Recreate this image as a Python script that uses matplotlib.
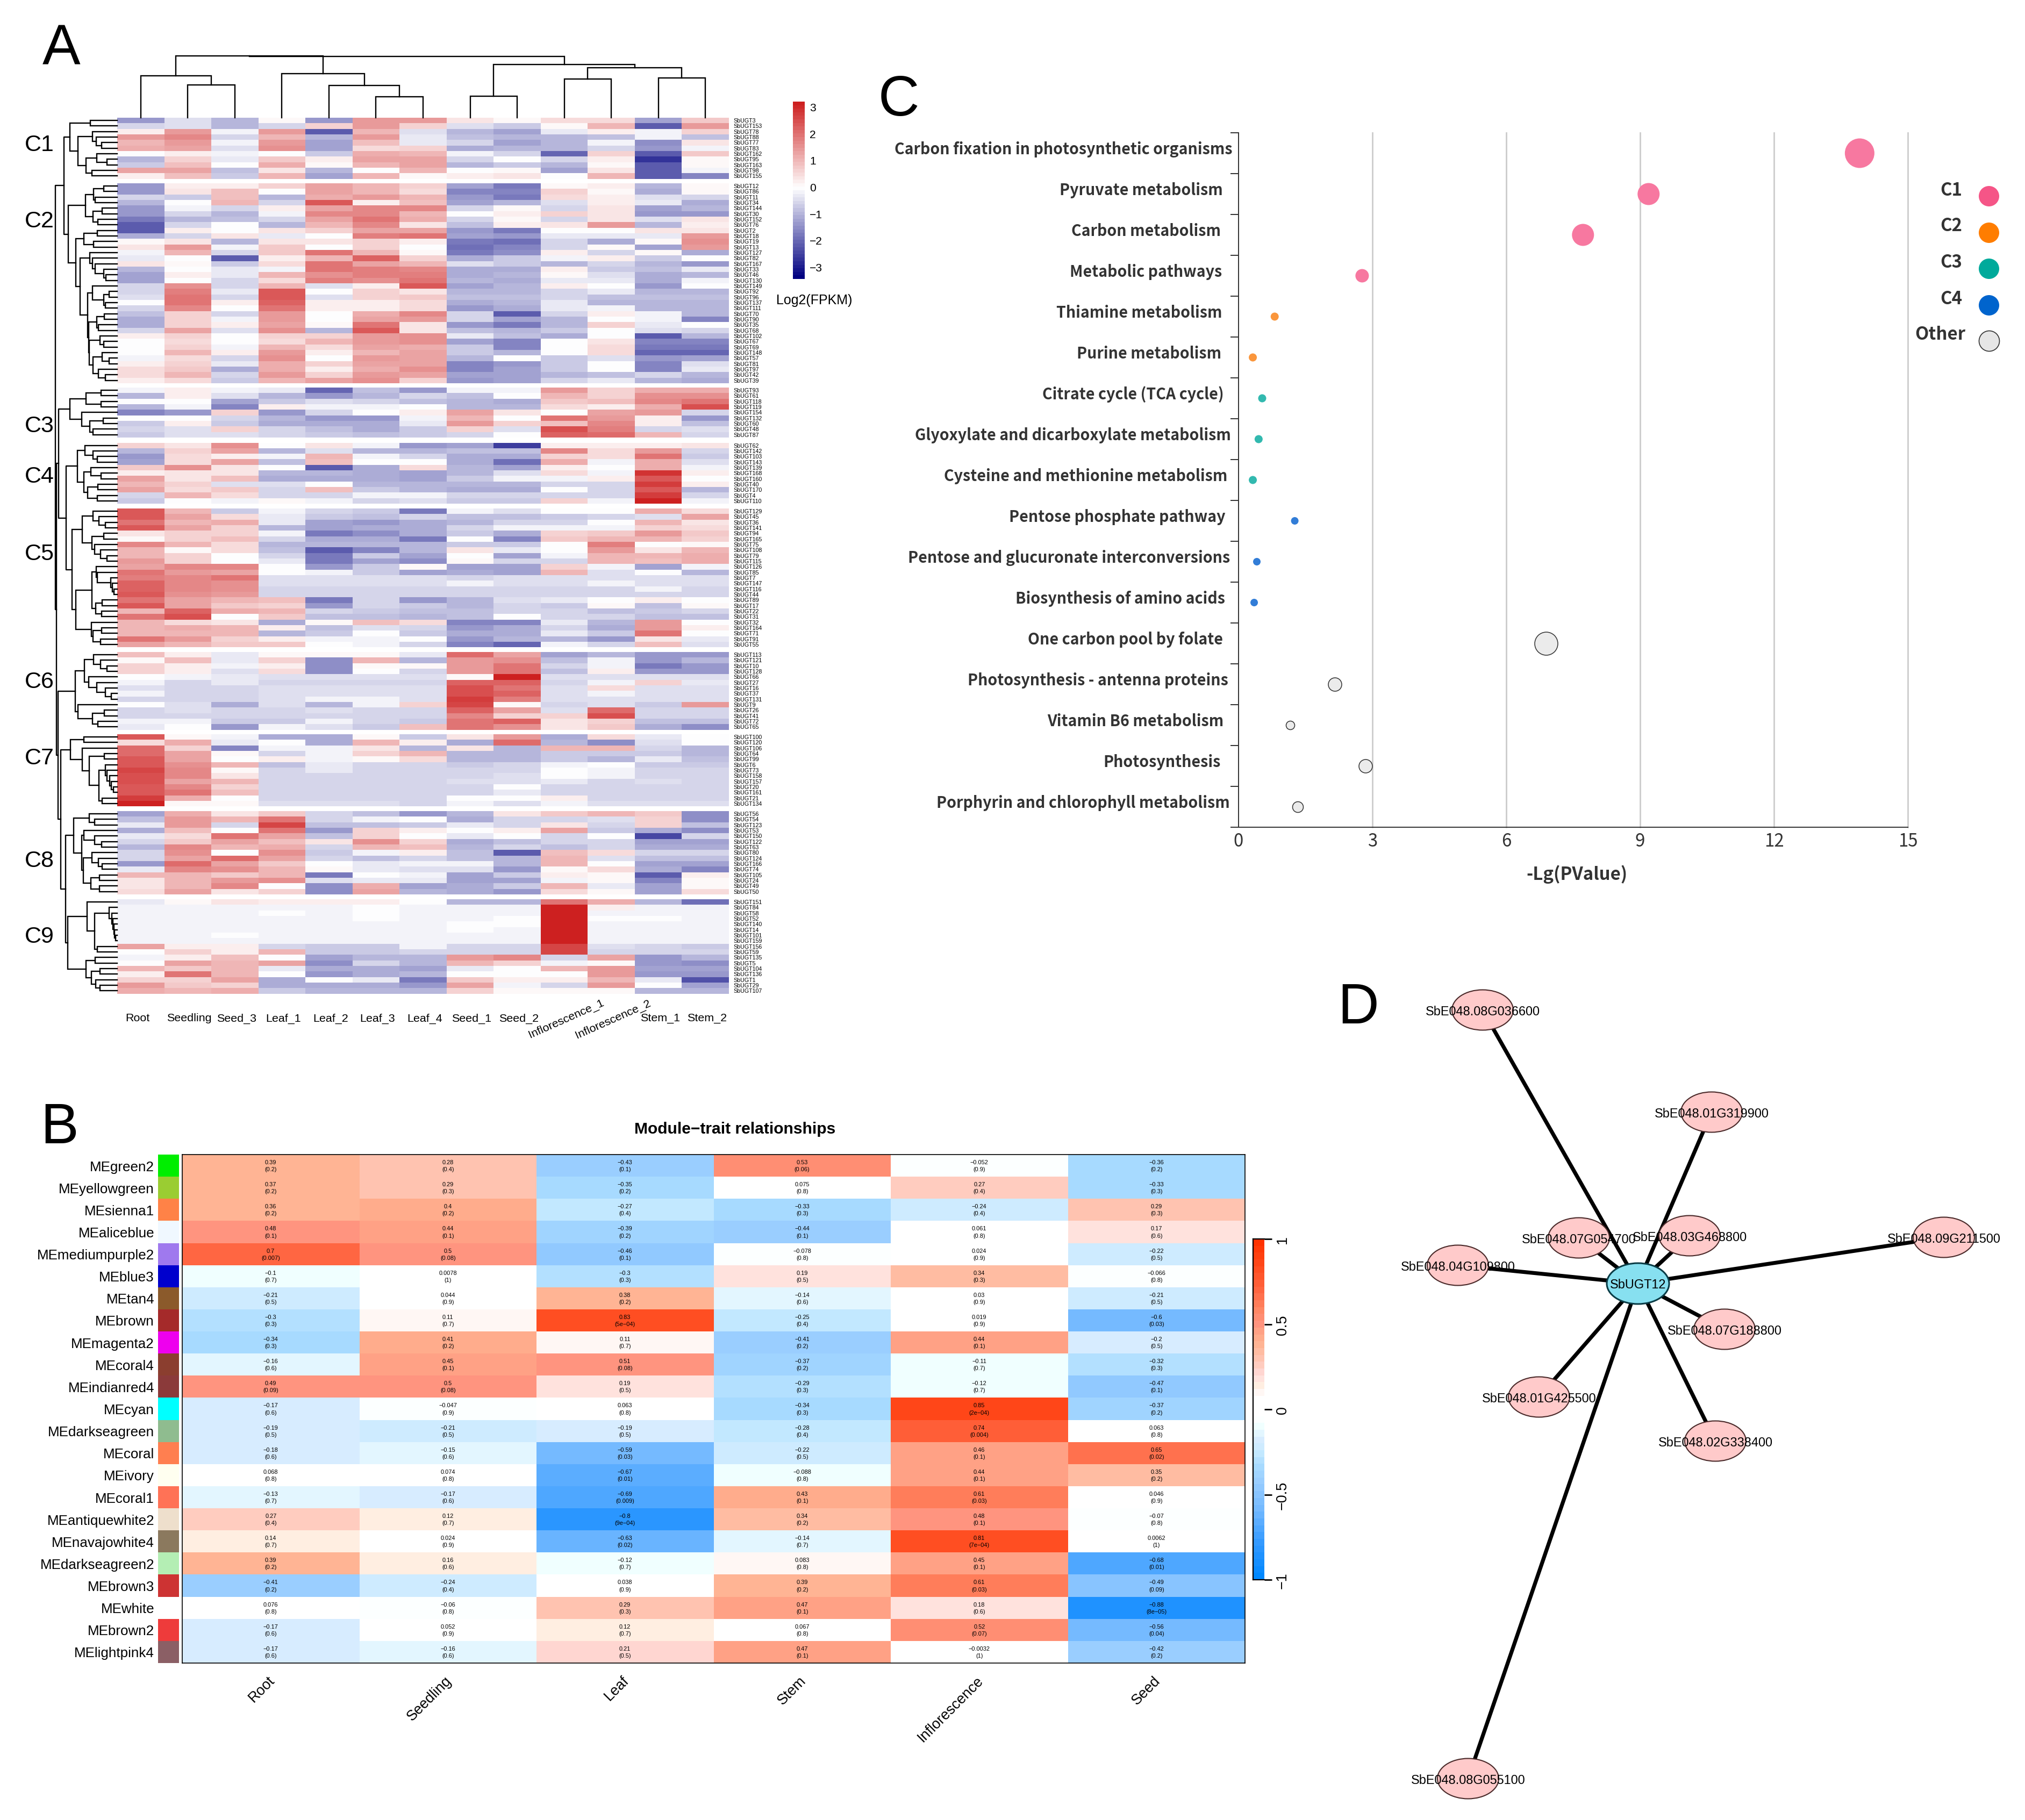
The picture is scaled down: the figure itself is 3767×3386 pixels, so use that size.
import numpy as np
import matplotlib
matplotlib.use('Agg')
import matplotlib.pyplot as plt
from matplotlib.colors import LinearSegmentedColormap, Normalize
from matplotlib.patches import Ellipse
from matplotlib.transforms import Bbox, TransformedBbox

W, H = 3767, 3387
plt.rcParams['font.family'] = ['Liberation Sans', 'DejaVu Sans']

# ---------- panel A: expression heatmap ----------
SAMPLES = ['Root', 'Seedling', 'Seed_3', 'Leaf_1', 'Leaf_2', 'Leaf_3', 'Leaf_4', 'Seed_1', 'Seed_2',
           'Inflorescence_1', 'Inflorescence_2', 'Stem_1', 'Stem_2']

C1_GENES = [3, 153, 78, 88, 77, 83, 162, 95, 163, 98, 155]
C1_VALUES = [
    [-1.4, -.4, -1.0, .05, -1.4, 1.5, 1.4, .4, .05, .5, .5, -1.2, .8],
    [-.6, -.45, -.9, -.6, .7, 1.5, .6, -.4, -.7, .05, 1.0, -2.1, 1.4],
    [.3, 1.4, -.2, 1.5, -2.1, 1.0, -.45, -1.0, -1.2, -.3, .2, -.1, .7],
    [1.5, 1.7, -.5, 1.0, -.9, 1.5, -.35, -.85, -1.0, -1.0, -.8, -.2, -.8],
    [1.0, 1.5, -.1, 1.4, -1.2, .9, -.35, -.5, -1.2, -.9, -.2, -1.5, .4],
    [1.2, 1.3, -.4, 1.6, -1.2, .5, .7, -1.1, -.9, -.9, -.5, -1.3, -.2],
    [0, .3, -.1, 0, -.7, 1.2, 1.0, -.2, -.6, -2.0, .6, -2.1, .8],
    [-.9, .7, -.3, .8, .3, 1.3, 1.3, -.6, -.05, -.6, .2, -2.7, .05],
    [-.65, .9, -.05, 1.2, .15, 1.1, 1.3, -.9, -.7, -.9, .05, -2.2, .05],
    [1.3, 1.3, -.8, .4, -.9, 0, 1.0, -.05, .05, -1.2, .4, -2.2, -.2],
    [.3, .9, -.65, 1.0, -1.2, 1.0, .1, .2, .4, -.05, 1.0, -2.1, -1.6],
]
C2_GENES = [12, 86, 11, 34, 144, 30, 152, 76, 2, 18, 19, 13, 127, 82, 167, 33, 46, 130, 149, 92, 96, 137,
            111, 70, 90, 35, 68, 102, 67, 69, 148, 57, 81, 97, 42, 39]
C2_VALUES = [
    [-1.4, .3, .3, .6, 1.3, 1.1, .7, -1.2, -1.7, .1, .2, -.9, .05],
    [-1.3, .4, .9, .02, 1.3, 1.1, .5, -1.6, -1.6, .6, .05, -1.1, .05],
    [-.5, -.7, .9, -.9, 1.2, 1.5, 1.0, -1.4, -1.7, .5, .3, -.4, -.6],
    [-1.0, -.05, 1.1, -.5, 2.4, .3, .9, -1.2, -1.0, -.4, .2, -.3, -1.1],
    [-1.4, -.2, -.5, .2, 1.3, 1.7, 1.7, -.5, .05, -.5, .4, -1.2, -.95],
    [-1.3, -.5, -.9, -.2, 1.7, 1.7, 1.0, -.05, .2, .7, .4, -1.3, -1.3],
    [-1.7, -1.0, -.8, -.6, 1.3, 1.9, 1.2, -.5, .05, -.5, .4, -.4, .4],
    [-2.1, -.6, .03, -1.0, 1.1, 1.7, .4, -.8, .2, .4, 1.5, -.9, .2],
    [-2.1, .3, .03, .4, .6, 1.3, 1.3, -1.4, -1.7, -.03, -.03, .4, .4],
    [-1.1, -.5, .4, -.3, -.03, 1.8, 1.9, -1.2, -1.3, -.3, -.3, -.3, 1.5],
    [.1, .4, -.9, .4, .4, .6, .3, -1.8, -1.9, -.6, -1.1, .1, 1.6],
    [.4, 1.4, -.2, .8, -.03, .6, .02, -1.9, -1.6, -.5, .1, -1.2, 1.4],
    [-.2, 1.0, -.6, .8, 1.9, 1.0, .05, -1.7, -1.5, .2, -.6, .1, -1.1],
    [-.3, -.02, -2.1, .3, 1.0, 2.2, .7, -1.1, -.7, -.2, .3, -.7, -.05],
    [.4, .1, -.7, .5, 2.0, 1.3, 1.1, -.4, -.7, -1.0, -.5, -1.0, -1.3],
    [-.9, -.02, -.35, -.2, 2.0, 1.8, 1.7, -1.1, -1.1, .3, -.7, -.8, -.3],
    [-1.2, .3, -.35, 1.0, 1.6, 1.8, 1.8, -1.1, -.9, .1, -.4, -1.1, -.9],
    [-1.2, -.02, -.5, .5, 1.8, 1.6, 2.0, -1.0, -1.1, -.3, -.3, -1.1, -.2],
    [-.6, 1.6, -.6, 1.0, -.4, .3, 2.4, -1.2, -1.0, .3, .02, -1.4, -.05],
    [-.5, 1.8, -.3, 2.4, -.02, .6, .4, -.9, -.9, -.6, -.3, -.9, -.9],
    [-.4, 1.9, -.5, 2.3, -.4, .6, .8, -.8, -.8, -.6, -.8, -.8, -.8],
    [.02, 1.9, .3, 2.2, .2, .3, .5, -1.1, -1.0, -.3, -.9, -1.0, -1.0],
    [-.5, 1.7, -.03, 2.0, .2, .3, .5, -1.3, -1.1, -.3, -.2, -1.0, -1.0],
    [-.8, .6, -.6, 1.4, -.02, 1.2, 1.7, -.5, -2.2, -.5, .3, -.2, -1.0],
    [-1.1, .6, -.1, 1.5, 0, 1.3, 1.5, -.5, -1.2, -1.0, -.05, -.2, -1.6],
    [-1.1, .7, .2, 1.3, .1, 1.9, .4, -1.3, -1.8, -1.0, .7, -.3, -.05],
    [-.6, 1.3, -.4, 1.6, -.9, 2.4, .4, -.8, -1.0, -.7, -.03, -.4, -.6],
    [.3, .6, -.02, .6, .6, 1.4, 1.6, -.3, -.8, -1.1, -.03, -2.1, -1.0],
    [-.05, .5, -.02, .5, 1.0, 1.5, 1.6, -1.2, -1.6, .02, .4, -1.6, -1.6],
    [-.05, .7, -.2, 1.1, .5, 1.3, 1.2, -.7, -1.6, .02, .5, -1.7, -1.7],
    [-.05, 1.0, .2, 1.4, .2, 1.0, 1.3, -.7, -1.0, .02, .5, -2.0, -2.0],
    [-.2, .5, -.6, 1.6, .02, 1.5, 1.3, -.9, -.03, -.7, -.4, -1.3, -1.2],
    [.2, .6, -.3, 1.2, .6, 1.3, 1.3, -1.6, -1.3, -.7, -.03, -1.6, -.4],
    [.5, .8, -1.1, 1.2, .3, 1.2, 1.6, -1.6, -1.2, -.7, -.03, -1.6, -.3],
    [.5, 1.0, -.6, 1.4, .7, 1.4, 1.3, -1.2, -1.2, -1.0, -.8, -.5, -.9],
    [.3, .5, -.7, 1.1, 1.3, 1.6, .6, -1.4, -1.2, -.5, -.3, -.9, -1.1],
]
C3_GENES = [93, 61, 118, 119, 154, 132, 60, 48, 87]
C3_VALUES = [
    [-.1, .2, -.2, -.3, -2.0, -.8, -1.4, -.2, -.2, 1.5, .7, 1.2, 1.2],
    [-.9, .3, -.4, -.9, -1.4, -.9, -.6, -.8, .03, 1.1, .7, 1.6, 1.6],
    [-.05, .03, -1.2, -.7, -.4, -.5, -.8, -1.0, -1.1, .8, .9, 1.7, 2.0],
    [-.9, -.2, -1.6, .3, -.2, -.2, .02, -1.0, -1.0, .5, .2, 1.2, 2.5],
    [-1.6, -1.3, .6, -1.3, -.6, .02, .2, 1.3, .4, .02, 1.3, 1.5, -.5],
    [.02, .03, -.5, -.9, -1.3, -1.3, -.2, 1.1, .02, 2.0, 1.5, .3, -1.3],
    [-.7, .2, -.7, -1.1, -1.1, -1.1, -.3, 1.5, .7, .9, 1.7, .2, -.8],
    [-.5, -.4, .6, -.6, -.8, -1.1, -.7, .6, -.4, 2.5, 1.8, -.6, -.4],
    [-.7, -.4, -.4, -.6, -.7, -.8, -.7, -.6, .02, 2.2, 2.1, 1.0, -.6],
]
C4_GENES = [62, 142, 103, 143, 139, 168, 160, 40, 170, 4, 110]
C4_VALUES = [
    [.7, .4, 1.6, .02, .4, -.2, -1.4, -1.2, -2.6, .2, .3, .3, .4],
    [-1.0, .6, 1.3, -.9, -.4, -.9, -.9, -.8, -.8, 1.7, .5, 1.4, -.5],
    [-1.3, .5, .3, -.2, 1.1, -.2, -.6, -1.1, -1.1, .6, .5, 2.0, -.7],
    [-1.2, .5, 1.3, -.8, .9, .02, .03, -1.1, -1.9, 1.2, -.2, 1.2, -.4],
    [.8, 1.6, .4, .02, -2.1, -1.1, .5, -1.0, -1.2, .3, .03, 1.2, -.2],
    [.3, .4, .4, -.9, -1.0, -1.1, -1.2, -.9, -.45, .5, -.2, 2.9, .3],
    [1.3, .4, .9, -1.1, -1.1, -1.1, -1.2, -.7, -.2, -.2, .2, 2.3, -.05],
    [1.0, .7, -.4, -.4, .02, -.9, -1.0, -1.0, -.9, -.5, -.5, 2.8, .2],
    [1.3, .5, .8, -.6, .9, -.7, -1.0, -1.1, -1.1, -.05, -.5, 2.3, -1.0],
    [-.5, 1.1, .55, -.5, -.5, -.2, -.15, -.5, -.6, -.6, -.5, 2.8, -.6],
    [-.7, 0, -.2, .15, -.2, -.5, -.45, -.7, -.7, .7, -.2, 3.1, -.2],
]
C5_GENES = [129, 45, 36, 141, 94, 165, 75, 108, 79, 115, 126, 85, 7, 147, 116, 44, 89, 17, 22, 31, 32, 164,
            71, 91, 55]
C5_VALUES = [
    [2.3, 1.0, -.7, -.2, -.5, -.7, -1.7, -.2, -.45, 0, 0, 1.2, .5],
    [2.4, 1.3, .5, -.3, -.7, -.8, -.6, -.8, -.8, -.7, -.5, -.4, 1.3],
    [1.9, 1.0, 1.2, -.35, -1.2, -1.3, -1.1, -.9, -.6, -.5, -.05, 1.1, .4],
    [2.3, 1.3, .6, -1.0, -1.2, -1.1, -1.1, -.6, -.2, -.2, -.2, .7, .5],
    [.4, .7, .7, -.15, -1.7, -1.5, -1.1, -.7, -1.1, .7, .8, 1.5, .8],
    [.1, .7, .9, -.6, -1.1, -1.1, -1.7, .02, -1.6, .8, 1.0, 1.0, .7],
    [1.7, 1.0, .5, -.9, -1.0, -1.0, -1.0, -.7, -.7, .02, 1.8, -.05, .1],
    [1.1, .08, .5, -.8, -2.1, -1.6, -1.0, .4, -.3, .02, 1.5, .4, 1.0],
    [1.1, .6, -.05, -.6, -1.8, -.7, -1.2, -.03, -1.2, -.2, 1.1, 1.1, 1.2],
    [1.4, .6, .02, -.35, -1.7, -1.2, -1.5, .1, -.6, -.6, 1.1, .9, 1.2],
    [1.3, 1.7, 1.7, .02, -1.3, -.7, .1, -1.2, -1.2, .7, -.2, -1.2, -.2],
    [1.9, 1.4, 1.3, .02, -.2, -.7, -1.2, -1.1, -1.2, 1.0, -.45, .03, -.9],
    [1.8, 1.7, 2.0, -.45, -.45, -.45, -.45, -.5, -.45, -.45, -.45, -.45, -.45],
    [2.2, 1.7, 1.6, -.45, -.45, -.45, -.45, -.15, -.45, -.45, -.15, -.45, -.45],
    [2.2, 1.7, 1.6, -.5, -.5, -.5, -.5, -.55, -.5, -.55, -.5, -.2, -.5],
    [2.4, 1.6, 1.4, -.6, -.6, -.6, -.6, -.6, -.5, -.5, -.5, -.6, -.6],
    [2.0, 1.3, 1.0, .9, -1.8, -.6, -1.3, -.9, -.45, -.3, .03, .3, -.05],
    [2.3, 1.3, .8, .7, -1.3, -.6, -.7, -.9, -.6, -.7, .15, -.8, .1],
    [1.1, 2.2, 1.2, 1.0, -.6, -.7, -.8, -.8, -.6, -.5, -.8, -.7, -.5],
    [1.9, 2.5, .03, .8, -.8, -.8, -.9, -.8, .02, -.5, -.5, -.8, -.8],
    [1.1, .5, .4, -1.1, .05, .9, .5, -1.6, -1.6, -.35, -.9, 1.5, -.02],
    [1.1, 1.2, 1.1, .3, -.8, -.4, -.6, -1.4, -1.1, -.6, -1.1, 1.5, .2],
    [1.1, 1.1, 1.1, -1.0, -.7, .02, -.7, -1.1, -1.1, -.35, -.7, 2.0, -.05],
    [2.0, 1.5, .7, .3, -.2, -.15, -.03, -1.3, -1.0, -1.0, -1.3, .4, -.35],
    [1.3, 1.1, .8, .8, .03, -.2, -.6, -1.6, -2.0, -.15, -.6, .9, -.45],
]
C6_GENES = [113, 121, 10, 128, 66, 27, 16, 37, 131, 9, 26, 41, 72, 65]
C6_VALUES = [
    [.9, .3, -.35, .15, .15, .15, -.3, 2.1, 1.3, -1.2, -.9, -1.4, -1.4],
    [.05, .9, -.3, .7, -1.5, 1.0, -1.0, 1.5, 1.6, -.8, -.2, -1.3, -1.0],
    [.6, .3, -.15, .3, -1.5, .15, .1, 1.5, 1.9, -.6, -.1, -1.7, -1.4],
    [.7, .3, -.45, .5, -1.5, -.05, -.5, 1.5, 1.9, -.8, .3, -1.3, -1.3],
    [.03, -.2, -.3, -.4, -.4, -.4, -.4, .15, 3.2, -.4, -.4, -.4, -.4],
    [-.2, -.6, -.3, -.6, -.5, -.5, -.6, 2.2, 2.2, -.6, -.2, .7, -.3],
    [-.4, -.5, -.5, -.45, -.45, -.45, -.45, 2.5, 2.0, -.45, .45, -.45, -.45],
    [-.15, -.5, -.5, -.45, -.45, -.45, -.45, 2.5, 2.2, -.45, -.2, -.45, -.45],
    [-.5, -.5, -.5, -.45, -.1, -.15, -.4, 2.8, 1.8, -.45, -.45, -.45, -.45],
    [.02, -.45, -1.1, -.45, -.9, -.15, .6, 2.6, .1, -.6, -.45, -.7, 1.4],
    [-.6, -.45, -.6, -.6, -.4, -.6, -.5, 2.2, 1.3, -.4, 2.1, -.6, -.6],
    [-.6, -.6, -.6, -.6, -.6, -.6, -.6, 1.7, .7, .6, 2.5, -.6, -.6],
    [-.2, -.2, -.7, -.7, -.2, -.6, -.7, 2.0, 2.2, .4, .6, -.8, -.8],
    [-.35, -.05, -1.3, -.2, -.4, -.7, .9, 2.0, 1.6, .4, .8, -1.1, -1.5],
]
C7_GENES = [100, 120, 106, 64, 99, 6, 73, 158, 157, 20, 161, 21, 134]
C7_VALUES = [
    [2.4, .15, -.2, -1.1, -1.1, .05, -.7, .4, 1.4, -1.1, .5, -.3, -.05],
    [.5, 1.2, -.3, -.03, -1.1, 1.0, .2, -1.1, 2.1, -.9, -1.5, -.4, .02],
    [2.1, .7, -1.6, -.15, -.2, .4, -.9, .4, -.9, 1.0, 1.0, -.6, -1.0],
    [2.1, 1.3, .15, -.5, -.2, .7, 1.0, -.9, -.9, -.7, -.7, -.7, -.9],
    [2.3, 1.3, -.05, .3, -.2, .15, .5, -1.0, -.9, -.7, -.9, -.3, -.8],
    [2.3, 1.6, 1.1, -.8, -.3, -.6, -.5, -.7, -.6, -.2, .02, -.7, -.7],
    [2.6, 1.7, .1, -.6, -.3, -.5, -.5, -.55, -.55, .03, -.2, -.55, -.55],
    [2.5, 1.7, .4, -.5, -.55, -.55, -.55, -.6, -.45, .03, -.2, -.6, -.6],
    [2.5, 1.3, 1.0, -.5, -.5, -.5, -.55, -.45, -.45, -.3, -.55, -.45, -.6],
    [2.4, 1.7, .6, -.6, -.6, -.6, -.6, -.6, -.05, -.5, -.5, -.6, -.6],
    [2.3, 1.9, .9, -.5, -.5, -.5, -.5, -.5, -.3, -.5, -.5, -.5, -.5],
    [2.8, 1.2, .02, -.6, -.6, -.6, -.6, .02, .02, .3, -.6, -.6, -.6],
    [3.2, .15, .15, -.45, -.45, -.45, -.5, -.15, -.45, -.15, -.45, -.45, -.45],
]
C8_GENES = [56, 54, 123, 53, 150, 122, 63, 80, 124, 166, 74, 105, 24, 49, 50]
C8_VALUES = [
    [-1.2, 1.2, .4, .8, -.5, -.8, -1.4, -.9, .35, .8, 1.0, .8, -1.5],
    [-.8, 1.5, 1.1, 1.9, -.6, -.2, -.05, -1.1, -.6, -.5, -.4, .7, -1.5],
    [-.35, 1.5, -.6, 2.6, -.8, -.8, -.7, -.35, -.5, .4, -.5, .6, -.8],
    [-1.1, .9, .02, 2.0, -1.3, .6, .3, .02, .2, 1.3, -.7, -1.1, -1.5],
    [-.3, .5, 2.0, 1.3, -.8, .7, .02, -.3, .02, -.6, .02, -2.4, -.6],
    [-.6, .8, 1.3, .9, .4, 1.6, .7, -1.1, -.8, -.6, -.6, -1.2, -1.2],
    [-1.0, 1.7, 1.1, 1.2, -.6, 1.0, .9, -1.0, -.6, -.8, -.5, -1.1, -1.1],
    [-.6, 1.6, .02, 1.6, -.7, -.2, .2, -.8, -2.2, .9, .5, -.5, -.5],
    [-.6, 1.3, 2.1, 1.3, -.6, -.8, -.6, -.8, -.9, 1.1, -.4, -.8, -.8],
    [-1.4, 2.1, 1.3, .8, .02, -.35, -.2, -.2, -1.0, 1.0, .03, -1.2, -1.2],
    [-.3, 1.7, 1.6, 1.1, .1, -.3, -.4, -.4, -1.3, .1, .5, -1.1, -1.6],
    [1.1, 1.1, .8, 1.1, -1.7, .02, -.2, -1.2, -.7, .3, .15, -2.1, .3],
    [.4, 1.1, 1.5, 1.6, -.45, -.3, -.3, -1.2, -1.2, -.2, .05, -1.6, .15],
    [.4, 1.1, 1.7, .02, -1.5, 1.2, -1.2, -1.1, -.7, 1.0, -.3, -1.2, .05],
    [.5, 1.3, .35, .7, -1.5, 1.3, -.9, -1.1, -1.4, .5, .1, -1.2, .5],
]
C9_GENES = [151, 84, 58, 52, 140, 14, 101, 159, 156, 59, 135, 5, 104, 136, 1, 29, 107]
C9_VALUES = [
    [-.35, .1, .35, .25, .3, .2, .02, -1.0, -.9, 2.0, 1.2, -.9, -1.9],
    [-.2, -.2, -.2, -.2, -.2, -.05, -.2, -.2, -.2, 3.2, .2, -.2, -.2],
    [-.2, -.2, -.2, 0, -.2, -.05, -.2, -.2, -.2, 3.2, -.2, -.2, -.2],
    [-.2, -.2, -.2, -.2, -.2, -.05, -.2, -.15, 0, 3.2, 0, 0, -.2],
    [-.2, -.2, -.2, -.2, -.2, -.2, -.2, 0, 0, 3.2, -.2, -.2, -.2],
    [-.2, -.2, -.2, -.2, -.2, -.2, -.2, 0, -.2, 3.2, -.2, -.2, -.2],
    [-.2, -.2, -.05, -.2, -.2, -.2, -.2, -.2, -.2, 3.2, -.2, -.2, -.2],
    [-.2, -.2, -.2, -.2, -.2, -.2, -.2, -.2, -.2, 3.2, -.2, -.2, -.2],
    [1.3, .2, .2, -.6, -.7, -.7, -.15, -.5, -.6, 2.6, -.4, -.5, -.7],
    [.02, .6, .3, 1.0, -.7, -.7, -.6, -.6, -.6, 2.6, -.6, -.6, -.6],
    [-.2, .2, .9, .02, -1.2, -.9, -1.0, 1.4, 1.7, -.5, 1.3, -1.3, -1.0],
    [.03, 1.3, 1.1, 1.3, -1.5, -.5, -1.0, 1.1, .6, -.2, .15, -1.4, -1.5],
    [1.1, .8, 1.1, -.3, -1.1, -1.1, -1.2, -.3, -.03, 1.1, 1.4, -1.2, -1.2],
    [.3, 2.0, 1.0, .03, -1.3, -1.1, -.9, .03, .03, .02, 1.4, -1.3, -1.3],
    [.7, .6, 1.3, -1.1, .03, -.3, -1.7, .8, .3, .3, 1.0, -.3, -2.3],
    [1.4, .8, .7, -1.1, -1.1, -1.1, -1.3, 1.3, -.2, -.6, 1.4, -.05, -1.2],
    [1.2, 1.0, 1.2, -.7, -1.0, -1.0, -1.0, .6, .15, .1, .1, -1.0, -1.0],
]

# row dendrograms, (merge position, child, child), ints are row numbers inside the cluster
C1_TREE = (255, (330, 0, 1), (285, (338, 2, (350, 3, (371, 4, 5))), (313, (352, 6, (390, 7, 8)), (335, 9, 10))))
C2_TREE = (248, (312, (342, (378, 0, 1), (347, 2, 3)), (340, (372, 4, 5), (357, 6, 7))),
           (276, (305, (355, 8, 9), (342, 10, 11)),
            (292, (327, 12, (337, 13, (347, 14, (378, 15, (387, 16, 17))))),
             (320, (337, 18, (378, (398, 19, 20), (385, 21, 22))),
              (323, (352, (380, 23, 24), (358, 25, 26)),
               (325, (365, 27, (378, 28, 29)), (340, (373, 30, (398, 31, 32)), (358, 33, (385, 34, 35)))))))))
C3_TREE = (255, (313, (368, 0, 1), (368, 2, 3)), (297, 4, (327, (376, 5, 6), (340, 7, 8))))
C4_TREE = (283, (310, 0, (340, 1, (355, 2, 3))), (306, (332, 4, (368, 5, 6)), (320, (357, 7, 8), (355, 9, 10))))
C5_TREE = (263, (300, (340, 0, (360, 1, (385, 2, 3))), (335, (378, 4, 5), (345, 6, (367, 7, (390, 8, 9))))),
           (276, (335, (350, 10, (355, 11, (403, 12, (410, 13, (415, 14, 15))))), (348, (372, 16, 17), (370, 18, 19))),
            (333, 20, (340, (370, 21, 22), (367, 23, 24)))))
C6_TREE = (274, (308, (342, 0, (367, 1, (390, 2, 3))), (323, 4, (352, 5, (385, 6, (405, 7, 8))))),
           (285, 9, (338, (380, 10, 11), (357, 12, 13))))
C7_TREE = (257, (306, 0, 1), (300, 2, (325, (380, 3, 4), (360, (385, 5, (390, 6, (400, 7, (405, 8, (413, 9, 10))))),
                                                         (372, 11, 12)))))
C8_TREE = (268, (325, 0, (345, 1, 2)), (297, (305, 3, (345, 4, (370, 5, 6))),
                                         (304, (335, 7, (358, 8, (372, 9, 10))), (332, (363, 11, 12), (363, 13, 14)))))
C9_TREE = (247, (318, 0, (345, (398, 1, (408, 2, (412, 3, (415, 4, (418, 5, (422, 6, 7)))))), (355, 8, 9))),
           (314, (347, 10, 11), (333, (365, 12, 13), (348, 14, (365, 15, 16)))))

# how the clusters join, merge positions only
CLUSTER_JOINS = {'top': 202, 'c12': 233, 'rest': 205, 'c345': 214, 'c45': 242, 'c6789': 212, 'c789': 222, 'c89': 240}

# column dendrogram, (merge y in pixels, child, child), ints are sample numbers
COLUMN_TREE = (106, (105, (142, 0, (158.5, 1, 2)), (137.5, 3, (160, 4, (181, 5, 6)))),
               (120.7, (179.6, 7, 8), (126.7, (147.6, 9, 10), (146.4, 11, 12))))

# ---------- panel B: module-trait table ----------
MODULES = ['MEgreen2', 'MEyellowgreen', 'MEsienna1', 'MEaliceblue', 'MEmediumpurple2', 'MEblue3', 'MEtan4',
           'MEbrown', 'MEmagenta2', 'MEcoral4', 'MEindianred4', 'MEcyan', 'MEdarkseagreen', 'MEcoral', 'MEivory',
           'MEcoral1', 'MEantiquewhite2', 'MEnavajowhite4', 'MEdarkseagreen2', 'MEbrown3', 'MEwhite', 'MEbrown2',
           'MElightpink4']
MODULE_COLORS = ['#00ee00', '#9acd32', '#ff8247', '#f0f8ff', '#9f79ee', '#0000cd', '#8b5a2b', '#a52a2a', '#ee00ee',
                 '#8b3e2f', '#8b3a3a', '#00ffff', '#8fbc8f', '#ff7f50', '#fffff0', '#ff7256', '#eedfcc', '#8b795e',
                 '#b4eeb4', '#cd3333', '#ffffff', '#ee3b3b', '#8b5f65']
TRAITS = ['Root', 'Seedling', 'Leaf', 'Stem', 'Inflorescence', 'Seed']
CORR = [
    ['0.39', '0.28', '-0.43', '0.53', '-0.052', '-0.36'],
    ['0.37', '0.29', '-0.35', '0.075', '0.27', '-0.33'],
    ['0.36', '0.4', '-0.27', '-0.33', '-0.24', '0.29'],
    ['0.48', '0.44', '-0.39', '-0.44', '0.061', '0.17'],
    ['0.7', '0.5', '-0.46', '-0.078', '0.024', '-0.22'],
    ['-0.1', '0.0078', '-0.3', '0.19', '0.34', '-0.066'],
    ['-0.21', '0.044', '0.38', '-0.14', '0.03', '-0.21'],
    ['-0.3', '0.11', '0.83', '-0.25', '0.019', '-0.6'],
    ['-0.34', '0.41', '0.11', '-0.41', '0.44', '-0.2'],
    ['-0.16', '0.45', '0.51', '-0.37', '-0.11', '-0.32'],
    ['0.49', '0.5', '0.19', '-0.29', '-0.12', '-0.47'],
    ['-0.17', '-0.047', '0.063', '-0.34', '0.85', '-0.37'],
    ['-0.19', '-0.21', '-0.19', '-0.28', '0.74', '0.063'],
    ['-0.18', '-0.15', '-0.59', '-0.22', '0.46', '0.65'],
    ['0.068', '0.074', '-0.67', '-0.088', '0.44', '0.35'],
    ['-0.13', '-0.17', '-0.69', '0.43', '0.61', '0.046'],
    ['0.27', '0.12', '-0.8', '0.34', '0.48', '-0.07'],
    ['0.14', '0.024', '-0.63', '-0.14', '0.81', '0.0062'],
    ['0.39', '0.16', '-0.12', '0.083', '0.45', '-0.68'],
    ['-0.41', '-0.24', '0.038', '0.39', '0.61', '-0.49'],
    ['0.076', '-0.06', '0.29', '0.47', '0.18', '-0.88'],
    ['-0.17', '0.052', '0.12', '0.067', '0.52', '-0.56'],
    ['-0.17', '-0.16', '0.21', '0.47', '-0.0032', '-0.42'],
]
PVALS = [
    ['0.2', '0.4', '0.1', '0.06', '0.9', '0.2'],
    ['0.2', '0.3', '0.2', '0.8', '0.4', '0.3'],
    ['0.2', '0.2', '0.4', '0.3', '0.4', '0.3'],
    ['0.1', '0.1', '0.2', '0.1', '0.8', '0.6'],
    ['0.007', '0.08', '0.1', '0.8', '0.9', '0.5'],
    ['0.7', '1', '0.3', '0.5', '0.3', '0.8'],
    ['0.5', '0.9', '0.2', '0.6', '0.9', '0.5'],
    ['0.3', '0.7', '5e-04', '0.4', '0.9', '0.03'],
    ['0.3', '0.2', '0.7', '0.2', '0.1', '0.5'],
    ['0.6', '0.1', '0.08', '0.2', '0.7', '0.3'],
    ['0.09', '0.08', '0.5', '0.3', '0.7', '0.1'],
    ['0.6', '0.9', '0.8', '0.3', '2e-04', '0.2'],
    ['0.5', '0.5', '0.5', '0.4', '0.004', '0.8'],
    ['0.6', '0.6', '0.03', '0.5', '0.1', '0.02'],
    ['0.8', '0.8', '0.01', '0.8', '0.1', '0.2'],
    ['0.7', '0.6', '0.009', '0.1', '0.03', '0.9'],
    ['0.4', '0.7', '9e-04', '0.2', '0.1', '0.8'],
    ['0.7', '0.9', '0.02', '0.7', '7e-04', '1'],
    ['0.2', '0.6', '0.7', '0.8', '0.1', '0.01'],
    ['0.2', '0.4', '0.9', '0.2', '0.03', '0.09'],
    ['0.8', '0.8', '0.3', '0.1', '0.6', '8e-05'],
    ['0.6', '0.9', '0.7', '0.8', '0.07', '0.04'],
    ['0.6', '0.6', '0.5', '0.1', '1', '0.2'],
]

# ---------- panel C: enrichment bubbles ----------
PATHWAYS = ['Carbon fixation in photosynthetic organisms', 'Pyruvate metabolism', 'Carbon metabolism',
            'Metabolic pathways', 'Thiamine metabolism', 'Purine metabolism', 'Citrate cycle (TCA cycle)',
            'Glyoxylate and dicarboxylate metabolism', 'Cysteine and methionine metabolism',
            'Pentose phosphate pathway', 'Pentose and glucuronate interconversions', 'Biosynthesis of amino acids',
            'One carbon pool by folate', 'Photosynthesis - antenna proteins', 'Vitamin B6 metabolism',
            'Photosynthesis', 'Porphyrin and chlorophyll metabolism']
LG_P = [13.92, 9.19, 7.72, 2.77, .81, .32, .53, .45, .32, 1.26, .41, .35, 6.89, 2.16, 1.16, 2.84, 1.33]
BUBBLE_PX = [55, 41, 41, 25, 15, 15, 15, 15, 15, 14, 14, 14, 43, 25, 16, 25, 20]
GROUP = ['C1', 'C1', 'C1', 'C1', 'C2', 'C2', 'C3', 'C3', 'C3', 'C4', 'C4', 'C4',
         'Other', 'Other', 'Other', 'Other', 'Other']
BUBBLE_COLORS = {'C1': '#f778a0', 'C2': '#fa963c', 'C3': '#32b9af', 'C4': '#327dd7', 'Other': '#ebebeb'}
LEGEND_COLORS = {'C1': '#f55587', 'C2': '#ff7d00', 'C3': '#00aa9b', 'C4': '#0064cd', 'Other': '#e6e6e6'}
# the labels were placed by hand in the original, right edge of each one
PATHWAY_RIGHT = [503, 490, 487, 489, 489, 488, 491, 501, 496, 493, 500, 493, 490, 497, 491, 487, 499]

# ---------- panel D: network ----------
HUB = 'SbUGT12'
NEIGHBOURS = ['SbE048.08G036600', 'SbE048.01G319900', 'SbE048.07G054700', 'SbE048.03G468800', 'SbE048.09G211500',
              'SbE048.04G109800', 'SbE048.07G188800', 'SbE048.01G425500', 'SbE048.02G338400', 'SbE048.08G055100']
NEIGHBOUR_X = [2758, 3184, 2937, 3143, 3616, 2712, 3208, 2863, 3191, 2731]
NEIGHBOUR_Y = [1880, 2070, 2304, 2300, 2303, 2355, 2474, 2600, 2682, 3310]
HUB_XY = (3047, 2389)


def pt(size_px):
    # figure is saved at dpi 100, so this turns pixels into points
    return size_px * 0.72


def px_axes(fig, x0, y0, x1, y1):
    return fig.add_axes([x0 / W, 1 - y1 / H, (x1 - x0) / W, (y1 - y0) / H])


def fmt(s):
    return s.replace('-', '\u2212')


def draw_row_tree(ax, node, row_y, scale):
    if isinstance(node, int):
        return 218, row_y(node)
    x = node[0] / scale
    xa, ya = draw_row_tree(ax, node[1], row_y, scale)
    xb, yb = draw_row_tree(ax, node[2], row_y, scale)
    ax.plot([xa, x, x, xb], [ya, ya, yb, yb], color='black', lw=1.7, solid_joinstyle='miter', zorder=3)
    return x, (ya + yb) / 2


def draw_col_tree(ax, node, col_x):
    if isinstance(node, int):
        return col_x(node), 220
    y = node[0]
    xa, ya = draw_col_tree(ax, node[1], col_x)
    xb, yb = draw_col_tree(ax, node[2], col_x)
    ax.plot([xa, xa, xb, xb], [ya, y, y, yb], color='black', lw=1.7, solid_joinstyle='miter', zorder=3)
    return (xa + xb) / 2, y


def join(ax, x, a, b, scale=1.96):
    # a, b are (x, y) of two subtree roots
    x = x / scale
    ax.plot([a[0], x, x, b[0]], [a[1], a[1], b[1], b[1]], color='black', lw=1.7, zorder=3)
    return x, (a[1] + b[1]) / 2


def panel_a(fig, canvas):
    clusters = [('C1', C1_GENES, C1_VALUES, C1_TREE, 220), ('C2', C2_GENES, C2_VALUES, C2_TREE, 342),
                ('C3', C3_GENES, C3_VALUES, C3_TREE, 722), ('C4', C4_GENES, C4_VALUES, C4_TREE, 824.5),
                ('C5', C5_GENES, C5_VALUES, C5_TREE, 947), ('C6', C6_GENES, C6_VALUES, C6_TREE, 1214),
                ('C7', C7_GENES, C7_VALUES, C7_TREE, 1367), ('C8', C8_GENES, C8_VALUES, C8_TREE, 1510),
                ('C9', C9_GENES, C9_VALUES, C9_TREE, 1674)]
    label_y = [270, 412, 793, 887, 1031, 1269, 1411, 1602, 1743]
    row_h = 10.33
    left, right = 218, 1356
    vmin, vmax = -3.42, 3.23
    mid = -vmin / (vmax - vmin)
    cmap = LinearSegmentedColormap.from_list(
        'navy_red', [(0, '#000080'), (mid, '#ffffff'), (1, '#cd2020')], N=50)
    norm = Normalize(vmin, vmax)
    roots = {}
    for (name, genes, values, tree, top), ly in zip(clusters, label_y):
        bottom = top + row_h * len(genes)
        ax = px_axes(fig, left, top, right, bottom)
        ax.pcolormesh(np.array(values), cmap=cmap, norm=norm, antialiased=False)
        ax.set_ylim(len(genes), 0)
        ax.axis('off')
        for i, g in enumerate(genes):
            canvas.text(1364, top + row_h * (i + .5), f'SbUGT{g}', fontsize=pt(10.6), va='center', ha='left')
        canvas.text(46, ly, name, fontsize=pt(43), va='center', ha='left')
        roots[name] = draw_row_tree(canvas, tree, lambda r, t=top: t + row_h * (r + .5), 1.96)

    j = CLUSTER_JOINS
    c12 = join(canvas, j['c12'], roots['C1'], roots['C2'])
    c45 = join(canvas, j['c45'], roots['C4'], roots['C5'])
    c345 = join(canvas, j['c345'], roots['C3'], c45)
    c89 = join(canvas, j['c89'], roots['C8'], roots['C9'])
    c789 = join(canvas, j['c789'], roots['C7'], c89)
    c6789 = join(canvas, j['c6789'], roots['C6'], c789)
    rest = join(canvas, j['rest'], c345, c6789)
    join(canvas, j['top'], c12, rest)

    col_w = (right - left) / len(SAMPLES)
    draw_col_tree(canvas, COLUMN_TREE, lambda c: left + col_w * (c + .5))

    offsets = [-6, 3, 3, 3, 3, 3, 3, 3, 3, None, None, 3, 3]
    for i, s in enumerate(SAMPLES):
        if offsets[i] is None:
            continue
        canvas.text(left + col_w * (i + .5) + offsets[i], 1895, s, fontsize=pt(21.5), ha='center', va='center')
    canvas.text(1053, 1895, SAMPLES[9], fontsize=pt(21.5), ha='center', va='center', rotation=24)
    canvas.text(1140, 1896, SAMPLES[10], fontsize=pt(21.5), ha='center', va='center', rotation=24)

    # colour key
    cax = px_axes(fig, 1475, 190, 1497, 520)
    levels = np.linspace(vmin, vmax, 51)
    cax.pcolormesh([0, 1], levels, ((levels[:-1] + levels[1:]) / 2)[:, None], cmap=cmap, norm=norm, antialiased=False)
    cax.axis('off')
    for v in [3, 2, 1, 0, -1, -2, -3]:
        canvas.text(1506, 350.5 - 49.6 * v, fmt(str(v)), fontsize=pt(21), va='center', ha='left')
    canvas.text(1515, 559, 'Log2(FPKM)', fontsize=pt(25), va='center', ha='center')


def panel_b(fig, canvas):
    left, right, top, bottom = 339, 2316, 2149, 3095
    corr = np.array([[float(v) for v in row] for row in CORR])
    stops = [(-1, (0, 136, 255)), (-.8, (51, 153, 255)), (-.6, (115, 185, 255)), (-.45, (150, 203, 255)),
             (-.33, (170, 220, 255)), (-.25, (200, 235, 255)), (-.17, (218, 236, 255)), (-.12, (235, 255, 255)),
             (-.05, (255, 255, 255)), (.08, (255, 255, 255)), (.12, (255, 240, 235)), (.15, (255, 237, 222)),
             (.2, (255, 220, 220)), (.28, (255, 200, 185)), (.38, (255, 182, 150)), (.45, (255, 168, 135)),
             (.5, (255, 150, 130)), (.6, (255, 135, 100)), (.7, (255, 105, 70)), (.85, (255, 75, 30)),
             (1, (255, 50, 0))]
    cmap = LinearSegmentedColormap.from_list(
        'blue_red', [((v + 1) / 2, tuple(c / 255 for c in rgb)) for v, rgb in stops], N=50)
    norm = Normalize(-1, 1)

    ax = px_axes(fig, left, top, right, bottom)
    ax.pcolormesh(corr, cmap=cmap, norm=norm, antialiased=False)
    ax.set_ylim(len(MODULES), 0)
    ax.set_xticks([])
    ax.set_yticks([])
    for s in ax.spines.values():
        s.set_linewidth(1.2)
    for r in range(len(MODULES)):
        for c in range(len(TRAITS)):
            ax.text(c + .5, r + .34, fmt(CORR[r][c]), fontsize=pt(11), ha='center', va='center')
            ax.text(c + .5, r + .66, f'({fmt(PVALS[r][c])})', fontsize=pt(11), ha='center', va='center')

    sw = px_axes(fig, 293.5, top, 333, bottom)
    sw.barh(range(len(MODULES)), 1, height=1, left=0, color=MODULE_COLORS, linewidth=0)
    sw.set_xlim(0, 1)
    sw.set_ylim(len(MODULES) - .5, -.5)
    sw.axis('off')

    row_h = (bottom - top) / len(MODULES)
    col_w = (right - left) / len(TRAITS)
    clip = TransformedBbox(Bbox([[70, 2100], [300, 3100]]), canvas.transData)
    for i, m in enumerate(MODULES):
        t = canvas.text(287, top + row_h * (i + .5) + 2, m, fontsize=pt(26), ha='right', va='center')
        t.set_clip_box(clip)
        t.set_clip_on(True)
    for i, tr in enumerate(TRAITS):
        canvas.text(left + col_w * (i + .5) - 6, 3114, tr, fontsize=pt(27), ha='right', va='top',
                    rotation=45, rotation_mode='anchor')
    canvas.text(1367, 2101, 'Module\u2212trait relationships', fontsize=pt(30), fontweight='bold',
                ha='center', va='center')

    cax = px_axes(fig, 2331, 2306, 2352, 2940)
    levels = np.linspace(-1, 1, 51)
    cax.pcolormesh([0, 1], levels, ((levels[:-1] + levels[1:]) / 2)[:, None], cmap=cmap, norm=norm, antialiased=False)
    cax.set_xticks([])
    cax.yaxis.tick_right()
    cax.set_yticks([-1, -.5, 0, .5, 1])
    cax.set_yticklabels([])
    cax.tick_params(axis='y', length=pt(14), width=2)
    cax.spines['right'].set_visible(False)
    for s in ('left', 'top', 'bottom'):
        cax.spines[s].set_linewidth(1.6)
    for v, lab in zip([-1, -.5, 0, .5, 1], ['\u22121', '\u22120.5', '0', '0.5', '1']):
        canvas.text(2386, 2623.5 - 317 * v, lab, fontsize=pt(27), rotation=90, ha='center', va='center')


def panel_c(fig, canvas):
    x0, y0, x1, y1 = 2304, 248, 3549, 1540
    ax = px_axes(fig, x0, y0, x1, y1)
    ax.patch.set_alpha(0)
    ax.set_xlim(0, 15)
    ax.set_ylim(len(PATHWAYS), 0)
    ys = np.arange(len(PATHWAYS)) + .5
    for g in [3, 6, 9, 12, 15]:
        ax.axvline(g, color='#cccccc', lw=2, zorder=1, clip_on=False)
    for v, y, d, g in zip(LG_P, ys, BUBBLE_PX, GROUP):
        edge = '#333333' if g == 'Other' else 'none'
        ax.scatter(v, y, s=pt(d) ** 2, color=BUBBLE_COLORS[g], edgecolors=edge, linewidths=1.1, zorder=3)
    ax.spines['top'].set_visible(False)
    ax.spines['right'].set_visible(False)
    for s in ('left', 'bottom'):
        ax.spines[s].set_color('#333333')
        ax.spines[s].set_linewidth(1.4)
    ax.set_xticks([0, 3, 6, 9, 12, 15])
    ax.set_xticklabels([])
    ax.tick_params(axis='x', length=0)
    ax.set_yticks(range(len(PATHWAYS) + 1))
    ax.set_yticklabels([])
    ax.tick_params(axis='y', length=pt(15), width=1.4, color='#333333')

    noto = ['Noto Sans CJK SC', 'DejaVu Sans']
    row_h = (y1 - y0) / len(PATHWAYS)
    for i, (p, r) in enumerate(zip(PATHWAYS, PATHWAY_RIGHT)):
        canvas.text(1600 + r / .726, y0 + row_h * (i + .5) - 8, p, fontsize=pt(28.6), fontweight='bold',
                    family=noto, color='#333333', ha='right', va='center')
    for t in [0, 3, 6, 9, 12, 15]:
        canvas.text(x0 + t * (x1 - x0) / 15, 1566, str(t), fontsize=pt(33), family=noto, color='#333333',
                    ha='center', va='center')
    canvas.text(2933, 1627, '-Lg(PValue)', fontsize=pt(33), fontweight='bold', family=noto, color='#333333',
                ha='center', va='center')

    leg_y = [366, 434, 501, 569, 635]
    txt_y = [355, 421, 489, 556, 623]
    lax = px_axes(fig, 3660, 340, 3740, 660)
    lax.set_xlim(3660, 3740)
    lax.set_ylim(660, 340)
    lax.axis('off')
    for name, ly, ty in zip(LEGEND_COLORS, leg_y, txt_y):
        edge = '#333333' if name == 'Other' else 'none'
        lax.scatter(3700, ly, s=pt(38) ** 2, color=LEGEND_COLORS[name], edgecolors=edge, linewidths=1.2)
        canvas.text(3656 if name == 'Other' else 3650, ty, name, fontsize=pt(33), fontweight='bold', family=noto,
                    color='#333333', ha='right', va='center')


def panel_d(canvas):
    for x, y in zip(NEIGHBOUR_X, NEIGHBOUR_Y):
        canvas.plot([HUB_XY[0], x], [HUB_XY[1], y], color='black', lw=5.2, zorder=2, solid_capstyle='butt')
    for name, x, y in zip(NEIGHBOURS, NEIGHBOUR_X, NEIGHBOUR_Y):
        canvas.add_patch(Ellipse((x, y), 114, 75, facecolor='#ffcaca', edgecolor='#4a2a2a', lw=1.5, zorder=3))
        canvas.text(x, y + 3, name, fontsize=pt(23.5), ha='center', va='center', zorder=4)
    canvas.add_patch(Ellipse(HUB_XY, 116, 76, facecolor='#87e0f0', edgecolor='#0a3c46', lw=2.2, zorder=3))
    canvas.text(HUB_XY[0], HUB_XY[1] + 2, HUB, fontsize=pt(23.5), ha='center', va='center', zorder=4)


def main():
    fig = plt.figure(figsize=(W / 100, H / 100), dpi=100, facecolor='white')
    # overlay in image pixels, y going down
    canvas = fig.add_axes([0, 0, 1, 1], zorder=5)
    canvas.set_xlim(0, W)
    canvas.set_ylim(H, 0)
    canvas.axis('off')
    canvas.patch.set_alpha(0)

    panel_a(fig, canvas)
    panel_b(fig, canvas)
    panel_c(fig, canvas)
    panel_d(canvas)

    for letter, x, y in [('A', 79, 120), ('B', 75, 2127), ('C', 1634, 215), ('D', 2488, 1904)]:
        canvas.text(x, y, letter, fontsize=pt(106), ha='left', va='baseline')

    fig.savefig('out.png', dpi=100)
    plt.close(fig)


if __name__ == '__main__':
    main()
